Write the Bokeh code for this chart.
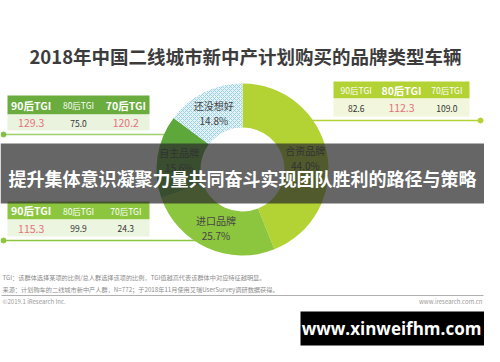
import math
from bokeh.plotting import figure
from bokeh.models import Range1d
from bokeh.core.properties import value
from bokeh.embed import file_html
from bokeh.resources import INLINE

# ---------------- data ----------------
title = "2018年中国二线城市新中产计划购买的品牌类型车辆"
brands = ["合资品牌", "进口品牌", "自主品牌", "还没想好"]
shares = [44.0, 25.7, 15.6, 14.8]
slice_colors = ["#b3d234", "#8cc63f", "#5ea83b", "#e3f3f8"]

tgi_groups = ["90后TGI", "80后TGI", "70后TGI"]
tgi_zizhu = [129.3, 75.0, 120.2]     # 自主品牌
tgi_hezi = [82.6, 112.3, 109.0]      # 合资品牌
tgi_jinkou = [115.3, 99.9, 24.3]     # 进口品牌
hi_zizhu = [True, False, True]
hi_hezi = [False, True, False]
hi_jinkou = [True, False, False]

note1 = "TGI：该群体选择某项的比例/总人群选择该项的比例，TGI值越高代表该群体中对应特征越明显。"
note2 = "来源：计划购车的二线城市新中产人群，N=772；于2018年11月使用艾瑞UserSurvey调研数据获得。"
copyright_txt = "©2019.1 iResearch Inc."
site_txt = "www.iresearch.com.cn"
banner_txt = "提升集体意识凝聚力量共同奋斗实现团队胜利的路径与策略"
watermark_txt = "www.xinweifhm.com"

FONT = "Noto Sans CJK SC"
H = 362


def Y(iy):
    return H - iy


p = figure(width=484, height=346, output_backend="svg", toolbar_location=None,
           x_range=Range1d(8, 492), y_range=Range1d(8, 354),
           x_axis_type=None, y_axis_type=None, min_border=0,
           outline_line_color=None, background_fill_color="white",
           border_fill_color="white")
p.grid.visible = False


def txt(x, y, s, size, color="#404040", bold=False, align="center", font=FONT):
    p.text(x=[x], y=[Y(y)], text=[s], text_font=value(font),
           text_font_size=f"{size}px", text_color=color,
           text_font_style="bold" if bold else "normal",
           text_align=align, text_baseline="middle")


# title
txt(253, 63, title, 18.5, "#3c3c3c", bold=True)

# connector lines (under donut)
p.line(x=[11, 175], y=[Y(142), Y(142)], line_color="#9fcf6a", line_width=1.5)
p.scatter(x=[11], y=[Y(142)], size=5, color="#7fbf4a")
p.line(x=[11, 210], y=[Y(248), Y(248)], line_color="#8cc63f", line_width=1.5)
p.scatter(x=[11], y=[Y(248)], size=5, color="#8cc63f")
p.line(x=[320, 488], y=[Y(128), Y(128)], line_color="#b3d234", line_width=1.5)
p.scatter(x=[488], y=[Y(128)], size=5, color="#b3d234")


def table(x0, x1, y0, y1, y2, head_col, row_col, vals, hi):
    p.quad(left=[x0], right=[x1], top=[Y(y0)], bottom=[Y(y1)],
           fill_color=head_col, line_color=None)
    p.quad(left=[x0], right=[x1], top=[Y(y1)], bottom=[Y(y2)],
           fill_color=row_col, line_color=None)
    w = (x1 - x0) / len(vals)
    for i, (g, v, h) in enumerate(zip(tgi_groups, vals, hi)):
        cx = x0 + w * (i + 0.5)
        txt(cx, (y0 + y1) / 2, g, 10.5 if h else 8.5, "white", bold=h)
        txt(cx, (y1 + y2) / 2 + 0.5, f"{v:.1f}", 10.5 if h else 8.5,
            "#e8707e" if h else "#333333", bold=False)


table(15, 157, 103, 122, 138, "#6aad3e", "#e9f3de", tgi_zizhu, hi_zizhu)
table(15, 157, 209, 227, 244, "#8cc63f", "#ecf5df", tgi_jinkou, hi_jinkou)
table(341, 477, 89, 106, 124, "#b3d234", "#f1f6dc", tgi_hezi, hi_hezi)

# donut
cx, cy = 250, 177
r_in, r_out = 42, 86
tot = sum(shares)
cum = 0.0
starts, ends, mids = [], [], []
for s in shares:
    a0 = math.pi / 2 - 2 * math.pi * cum / tot
    cum += s
    a1 = math.pi / 2 - 2 * math.pi * cum / tot
    starts.append(a0)
    ends.append(a1)
    mids.append((a0 + a1) / 2)

for i in range(len(shares)):
    kw = {}
    if i == 3:
        kw = dict(hatch_pattern="x", hatch_color="#9ccfe0", hatch_scale=4,
                  hatch_weight=1)
    p.annular_wedge(x=[cx], y=[Y(cy)], inner_radius=r_in, outer_radius=r_out,
                    start_angle=[starts[i]], end_angle=[ends[i]],
                    direction="clock", fill_color=slice_colors[i],
                    line_color=None, **kw)

rl = (r_in + r_out) / 2
for b, s, m in zip(brands, shares, mids):
    lx = cx + rl * math.cos(m)
    ly = cy - rl * math.sin(m)
    txt(lx, ly - 7, b, 10, "#454545")
    txt(lx, ly + 8, f"{s:.1f}%", 10, "#454545")

# footnotes
txt(10, 285, note1, 6.2, "#8c8c8c", align="left")
txt(10, 297, note2, 6.2, "#8c8c8c", align="left")
p.line(x=[9, 491], y=[Y(303), Y(303)], line_color="#b0b0b0", line_width=1)
txt(10, 309, copyright_txt, 6, "#9a9a9a", align="left")
txt(490, 309, site_txt, 6, "#9a9a9a", align="right")

# overlay banner
p.quad(left=[8], right=[492], top=[Y(151)], bottom=[Y(211)],
       fill_color="#2b2b2b", fill_alpha=0.72, line_color=None)
txt(250, 185, banner_txt, 18, "white", bold=True)

# watermark box
p.quad(left=[308], right=[492], top=[Y(319)], bottom=[Y(353)],
       fill_color="black", line_color=None)
txt(399, 336, watermark_txt, 17, "white", bold=True, font="Open Sans")

open("out.html", "w").write(file_html(p, INLINE))
